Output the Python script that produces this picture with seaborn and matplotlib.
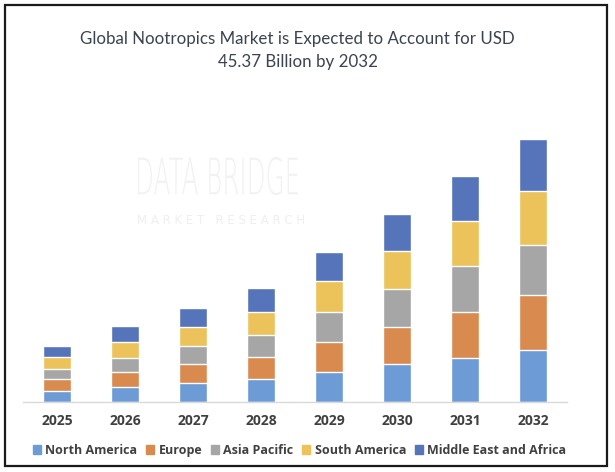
import seaborn as sns
import matplotlib.pyplot as plt
import matplotlib.patches as mpatches
from matplotlib.textpath import TextPath
from matplotlib.font_manager import FontProperties
from matplotlib.transforms import Affine2D
import pandas as pd
import numpy as np

# datos (USD Billion)
years = ["2025", "2026", "2027", "2028", "2029", "2030", "2031", "2032"]
regions = ["North America", "Europe", "Asia Pacific", "South America", "Middle East and Africa"]
north_america = [1.89, 2.58, 3.27, 3.86, 5.17, 6.44, 7.58, 8.90]
europe = [2.01, 2.63, 3.15, 3.79, 5.17, 6.47, 7.92, 9.42]
asia_pacific = [1.77, 2.36, 3.15, 3.84, 5.11, 6.49, 7.87, 8.78]
south_america = [2.01, 2.70, 3.32, 4.01, 5.39, 6.54, 7.80, 9.30]
mea = [2.01, 2.76, 3.34, 4.03, 4.99, 6.49, 7.82, 8.97]
colores = ["#6d9bd5", "#d98a4e", "#a6a6a6", "#ecc35b", "#5574b9"]

df = pd.DataFrame({"Year": years, "North America": north_america, "Europe": europe,
                   "Asia Pacific": asia_pacific, "South America": south_america,
                   "Middle East and Africa": mea})

sns.set_style("white")
fig = plt.figure(figsize=(6.15, 4.72), dpi=100)
W, H = 615, 472

# marca de agua (texto estrecho, escalado a mano)
tp = TextPath((0, 0), "DATA BRIDGE", size=10,
              prop=FontProperties(family="DejaVu Sans", weight="light"))
ext = tp.get_extents()
tr = (Affine2D().translate(-ext.x0, -ext.y0)
      .scale(160 / ext.width / W, 38 / ext.height / H)
      .translate(138 / W, (H - 195) / H))
fig.patches.append(mpatches.PathPatch(tr.transform_path(tp), transform=fig.transFigure,
                                      facecolor="#f1f1f4", edgecolor="none", zorder=0))
fig.text(0.360, 0.532, "M A R K E T   R E S E A R C H", fontsize=8.5, color="#efeff2",
         ha="center", va="center", zorder=0)

ax = fig.add_axes([0.0374, 0.1489, 0.8846, 0.639])
ax.patch.set_alpha(0)

# barras apiladas: se dibujan los acumulados del mayor al menor
acumulado = df[regions].cumsum(axis=1)
for reg, col in reversed(list(zip(regions, colores))):
    sns.barplot(x=df["Year"], y=acumulado[reg], color=col, width=0.41,
                saturation=1, ax=ax, zorder=2)

ax.set_ylim(0, 52)
ax.set_xlim(-0.5, 7.5)
ax.set_xlabel("")
ax.set_ylabel("")
ax.set_yticks([])
for s in ["top", "right", "left"]:
    ax.spines[s].set_visible(False)
ax.spines["bottom"].set_color("#d9d9d9")
ax.spines["bottom"].set_linewidth(1)
ax.tick_params(axis="x", length=0, pad=9)
for t in ax.get_xticklabels():
    t.set_fontsize(10)
    t.set_fontweight("bold")
    t.set_color("#404040")
    t.set_family("Open Sans")

# titulo
fig.text(0.484, 0.918, "Global Nootropics Market is Expected to Account for USD",
         fontsize=12.2, color="#3b4350", family="Lato", ha="center", va="center")
fig.text(0.484, 0.868, "45.37 Billion by 2032",
         fontsize=12.2, color="#3b4350", family="Lato", ha="center", va="center")

# leyenda
handles = [mpatches.Patch(color=c, label=r) for r, c in zip(regions, colores)]
leg = fig.legend(handles=handles, loc="center", bbox_to_anchor=(0.487, 0.046), ncol=5,
                 frameon=False, handlelength=0.65, handleheight=0.65, handletextpad=0.35,
                 columnspacing=0.7, prop={"family": "Open Sans", "weight": "bold", "size": 9})
for t in leg.get_texts():
    t.set_color("#404040")

# marco
fig.patches.append(mpatches.Rectangle((5 / 615, 6 / 472), 602 / 615, 461 / 472,
                                      transform=fig.transFigure, fill=False,
                                      edgecolor="#1a1a1a", linewidth=1.6))

plt.savefig("out.png", dpi=100)
